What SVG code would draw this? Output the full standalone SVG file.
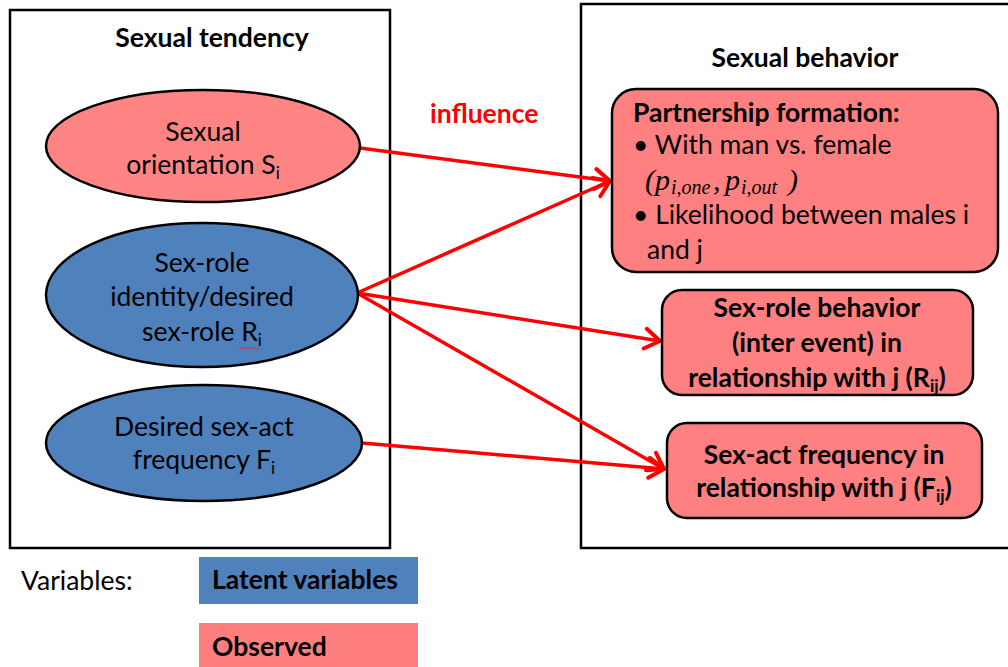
<svg xmlns="http://www.w3.org/2000/svg" width="1008" height="667" viewBox="0 0 1008 667">
<style>
text{font-family:Lato,"Open Sans","Liberation Sans",sans-serif;fill:#000}
.t{font-size:26.5px}
.b{font-size:26.5px;font-weight:bold}
.c{text-anchor:middle}
.frame{fill:#fff;stroke:#000;stroke-width:2.5}
.pink{fill:#FF8080;stroke:#000;stroke-width:2.5}
.blue{fill:#4F81BD;stroke:#000;stroke-width:2.5}
.arr{stroke:#FF0000;stroke-width:3.5;fill:none;marker-end:url(#ah)}
.sq{fill:none;stroke:#E03030;stroke-width:1}
.m{font-family:"Liberation Serif",serif;font-style:italic;font-size:30px}
.ms{font-family:"Liberation Serif",serif;font-style:italic;font-size:20px}
</style>
<defs>
<marker id="ah" markerUnits="userSpaceOnUse" markerWidth="30" markerHeight="30" refX="0" refY="0" viewBox="-20 -15 25 30" orient="auto">
<path d="M-15,-10 L0,0 L-15,10" fill="none" stroke="#FF0000" stroke-width="4" stroke-linecap="round" stroke-linejoin="round"/>
</marker>
</defs>
<rect width="1008" height="667" fill="#fff"/>
<g id="tendency-box">
<rect class="frame" x="10" y="10" width="380" height="538"/>
<text class="b c" x="212" y="47">Sexual tendency</text>
</g>
<g id="behavior-box">
<rect class="frame" x="581" y="4" width="440" height="544"/>
<text class="b c" x="805" y="67">Sexual behavior</text>
</g>
<g id="label-influence">
<text class="b" x="430" y="123" style="fill:#FF0000">influence</text>
</g>
<g id="connectors">
<line class="arr" x1="360" y1="148" x2="610" y2="181"/>
<line class="arr" x1="357" y1="293" x2="610" y2="181"/>
<line class="arr" x1="357" y1="293" x2="660" y2="341"/>
<line class="arr" x1="357" y1="293" x2="664" y2="469"/>
<line class="arr" x1="362" y1="443" x2="664" y2="469"/>
</g>
<g id="sexual-orientation">
<ellipse class="pink" cx="203" cy="146" rx="157" ry="56" style="fill:#FF8585"/>
<text class="t c" x="203" y="141">Sexual</text>
<text class="t c" x="203" y="174">orientation S<tspan font-size="17" dy="5">i</tspan></text>
</g>
<g id="sex-role-identity">
<ellipse class="blue" cx="202" cy="295" rx="156" ry="72"/>
<text class="t c" x="202" y="272">Sex-role</text>
<text class="t c" x="202" y="306">identity/desired</text>
<text class="t c" x="202" y="341">sex-role R<tspan font-size="17" dy="5">i</tspan></text>
<path class="sq" d="M239,347 l2,2 2,-2 2,2 2,-2 2,2 2,-2 2,2 2,-2 2,2 2,-2"/>
</g>
<g id="desired-frequency">
<ellipse class="blue" cx="204" cy="443" rx="158" ry="58"/>
<text class="t c" x="204" y="436">Desired sex-act</text>
<text class="t c" x="204" y="469">frequency F<tspan font-size="17" dy="5">i</tspan></text>
</g>
<g id="partnership-formation">
<rect class="pink" x="612" y="89" width="386" height="183" rx="24"/>
<text class="b" x="633" y="122">Partnership formation:</text>
<text class="t" x="633" y="154">• With man vs. female</text>
<text class="m" x="645" y="190">(</text>
<text class="m" x="655" y="190">p</text>
<text class="ms" x="671" y="194">i,one</text>
<text class="m" x="713" y="190">,</text>
<text class="m" x="725" y="190">p</text>
<text class="ms" x="741" y="194">i,out</text>
<text class="m" x="788" y="190">)</text>
<text class="t" x="633" y="224">• Likelihood between males i</text>
<text class="t" x="647" y="259">and j</text>
</g>
<g id="sex-role-behavior">
<rect class="pink" x="662" y="290" width="311" height="105" rx="20"/>
<text class="b c" x="817" y="317">Sex-role behavior</text>
<text class="b c" x="817" y="352">(inter event) in</text>
<text class="b c" x="817" y="387">relationship with j (R<tspan font-size="17" dy="5">ij</tspan><tspan dy="-5">)</tspan></text>
</g>
<g id="sex-act-frequency">
<rect class="pink" x="667" y="423" width="315" height="95" rx="20"/>
<text class="b c" x="824" y="464">Sex-act frequency in</text>
<text class="b c" x="824" y="497">relationship with j (F<tspan font-size="17" dy="5">ij</tspan><tspan dy="-5">)</tspan></text>
</g>
<g id="legend">
<text class="t" x="21" y="590">Variables:</text>
<rect x="199" y="557" width="219" height="47" fill="#4F81BD"/>
<text class="b" x="212" y="589">Latent variables</text>
<rect x="199" y="623" width="219" height="44" fill="#FF7F7F"/>
<text class="b" x="212" y="656">Observed</text>
</g>
</svg>
